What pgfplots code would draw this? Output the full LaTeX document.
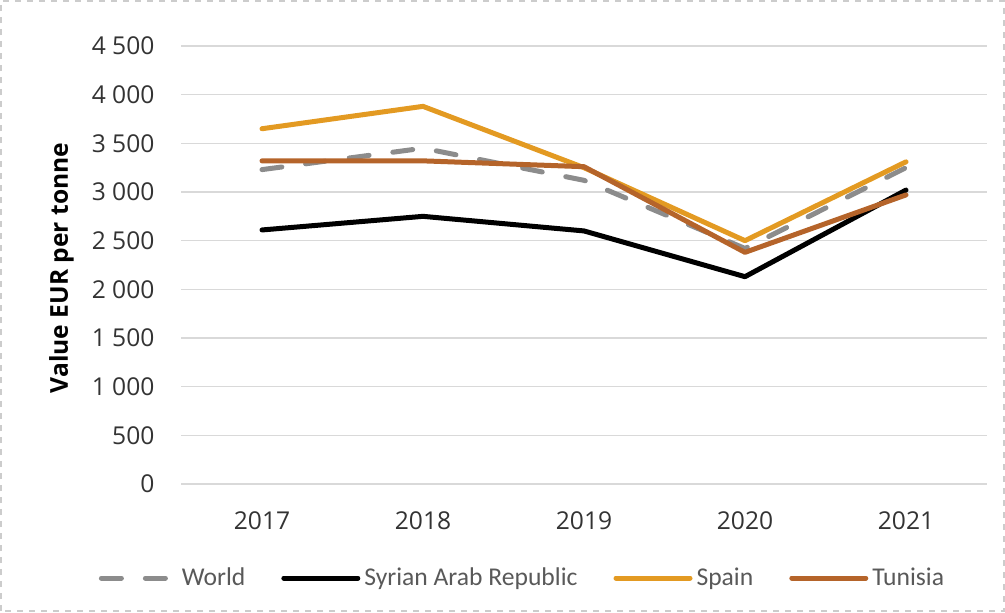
\documentclass[border=0pt]{standalone}
\usepackage{pgfplots}
\pgfplotsset{compat=1.18}
\usepackage{fontspec}
\setmainfont{Open Sans}
\newfontfamily\legfont{Carlito}
\definecolor{spain}{HTML}{E39A22}
\definecolor{tunisia}{HTML}{B5642A}
\definecolor{world}{HTML}{8C8C8C}
\definecolor{gridc}{HTML}{D9D9D9}
\begin{document}
\begin{tikzpicture}[x=0.5pt,y=0.5pt]
\begin{axis}[
  at={(0,0)}, anchor=south west,
  scale only axis, width=402.5pt, height=219pt,
  xmin=-0.5, xmax=4.5, ymin=0, ymax=4500,
  xtick={0,1,2,3,4}, xticklabels={2017,2018,2019,2020,2021},
  ytick={0,500,...,4500},
  yticklabels={0,500,1 000,1 500,2 000,2 500,3 000,3 500,4 000,4 500},
  axis line style={draw=none},
  major tick length=0pt,
  ymajorgrids=true, xmajorgrids=false,
  grid style={color=gridc, line width=0.6pt},
  tick label style={font=\fontsize{12.3}{14}\selectfont, text=black!80},
  yticklabel style={xshift=-10pt},
  xticklabel style={yshift=-10.5pt},
  ylabel={\bfseries Value EUR per tonne},
  every axis y label/.style={at={(-60pt,108pt)}, rotate=90, anchor=center,
     font=\fontsize{12.3}{14}\selectfont},
  legend style={at={(171pt,-47pt)}, anchor=center, draw=none, fill=none,
     legend columns=4, font=\legfont\fontsize{12.8}{14}\selectfont, text=black!65,
     /tikz/every even column/.append style={column sep=16pt},
     nodes={inner xsep=2pt}},
  legend image code/.code={\draw[#1] (0pt,0pt) -- (37pt,0pt);},
  clip=false,
]
\addplot[world, line width=2.5pt, line cap=round, dash pattern=on 10pt off 12pt] coordinates {(0,3230) (1,3450) (2,3120) (3,2420) (4,3250)};
\addlegendentry{World}
\addplot[black, line width=2.5pt, line cap=round, line join=round] coordinates {(0,2610) (1,2750) (2,2600) (3,2130) (4,3020)};
\addlegendentry{Syrian Arab Republic}
\addplot[spain, line width=2.5pt, line cap=round, line join=round] coordinates {(0,3650) (1,3880) (2,3250) (3,2500) (4,3310)};
\addlegendentry{Spain}
\addplot[tunisia, line width=2.5pt, line cap=round, line join=round] coordinates {(0,3320) (1,3320) (2,3260) (3,2380) (4,2970)};
\addlegendentry{Tunisia}
\end{axis}
\draw[black!20, dashed, line width=0.6pt] (-180.5,-127) rectangle (822.5,483);
\useasboundingbox (-181.5,-128) rectangle (823.5,484);
\end{tikzpicture}
\end{document}
